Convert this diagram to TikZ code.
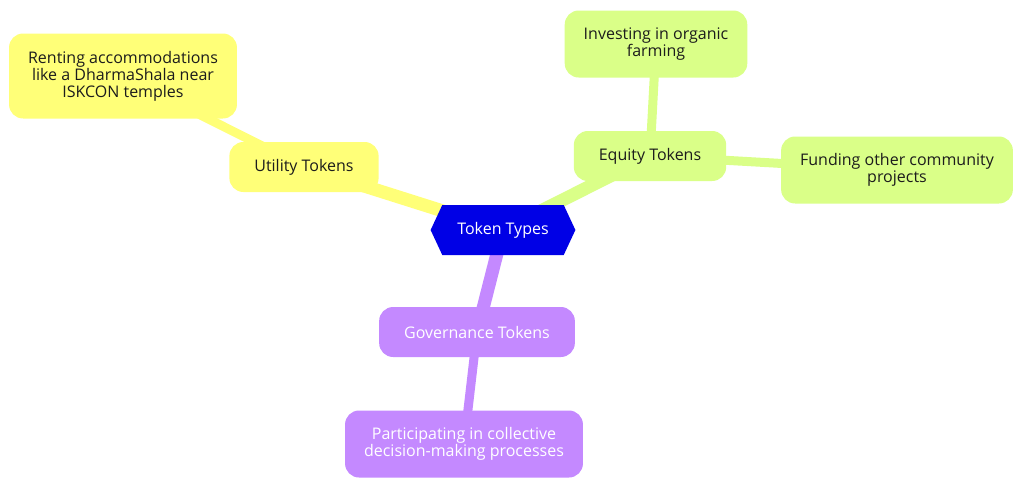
\documentclass[tikz,border=0pt]{standalone}
\usepackage{fontspec}
\setmainfont{Open Sans}
\usetikzlibrary{shapes.symbols,backgrounds}
\definecolor{rootblue}{HTML}{0000E6}
\definecolor{utilyellow}{HTML}{FFFF78}
\definecolor{eqgreen}{HTML}{DAFF88}
\definecolor{govpurple}{HTML}{C489FF}
\definecolor{darktext}{HTML}{1C1C1C}
\tikzstyle{rootnode}=[shape=signal, signal to=west and east, signal pointer angle=130, fill=rootblue, text=white, minimum height=50pt, inner xsep=15pt, font=\fontsize{16}{17}\selectfont]
\tikzstyle{topic}=[rounded corners=14pt, align=center, minimum height=50pt, inner xsep=25pt, inner ysep=4pt, font=\fontsize{16}{17}\selectfont]
\tikzstyle{leaf}=[topic, inner xsep=19pt]
\tikzstyle{branch}=[line width=13pt, line cap=butt]
\tikzstyle{twig}=[line width=9pt, line cap=butt]

\begin{document}
\begin{tikzpicture}[x=1pt,y=-1pt]
	\useasboundingbox (0,0) rectangle (1024,488);
	\node(root)[rootnode] at (503,230) {Token Types};
	\node(util)[topic, fill=utilyellow, text=darktext] at (304,167) {Utility Tokens};
	\node(rent)[leaf, fill=utilyellow, text=darktext, minimum height=85pt] at (123,76) {Renting accommodations\\like a DharmaShala near\\ISKCON temples};
	\node(equity)[topic, fill=eqgreen, text=darktext] at (650,156) {Equity Tokens};
	\node(invest)[leaf, fill=eqgreen, text=darktext, minimum height=67pt] at (656,44) {Investing in organic\\farming};
	\node(fund)[leaf, fill=eqgreen, text=darktext, minimum height=67pt] at (897,170) {Funding other community\\projects};
	\node(gov)[topic, fill=govpurple, text=white] at (477,332) {Governance Tokens};
	\node(part)[leaf, fill=govpurple, text=white, minimum height=67pt] at (464,444) {Participating in collective\\decision-making processes};
	\begin{scope}[on background layer]
	\fill[white] (0,0) rectangle (1024,488);
	\draw[branch, utilyellow] (root.center) -- (util.center);
	\draw[twig, utilyellow] (util.center) -- (rent.center);
	\draw[branch, eqgreen] (root.center) -- (equity.center);
	\draw[twig, eqgreen] (equity.center) -- (invest.center);
	\draw[twig, eqgreen] (equity.center) -- (fund.center);
	\draw[branch, govpurple] (root.center) -- (gov.center);
	\draw[twig, govpurple] (gov.center) -- (part.center);
	\end{scope}
\end{tikzpicture}
\end{document}
